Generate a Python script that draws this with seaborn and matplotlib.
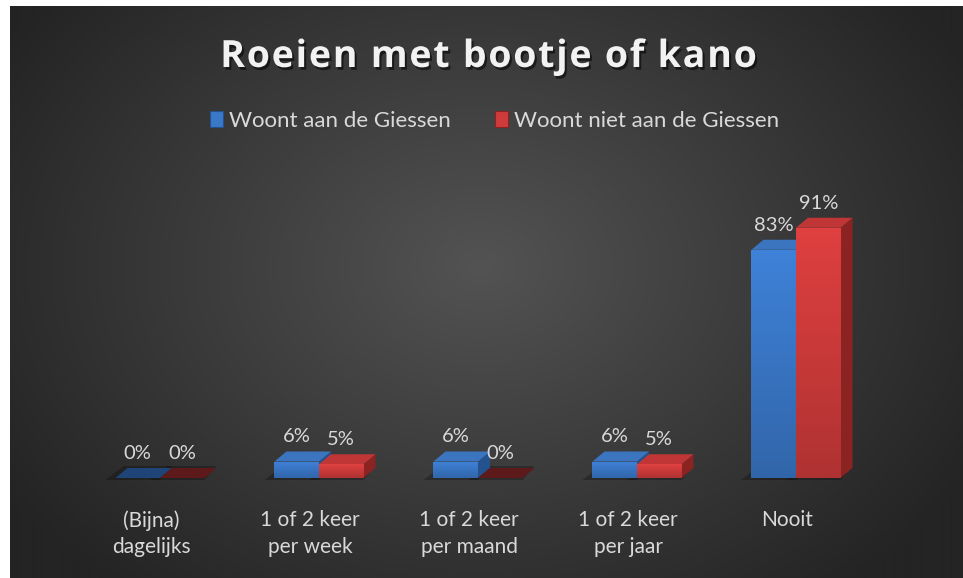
import numpy as np
import pandas as pd
import matplotlib
matplotlib.use("Agg")
import matplotlib.pyplot as plt
import seaborn as sns
from matplotlib.patches import Polygon, Patch
from matplotlib.colors import LinearSegmentedColormap, to_rgb
import matplotlib.patheffects as pe

# ---------------- data ----------------
categories = ["(Bijna)\ndagelijks", "1 of 2 keer\nper week", "1 of 2 keer\nper maand",
              "1 of 2 keer\nper jaar", "Nooit"]
series_names = ["Woont aan de Giessen", "Woont niet aan de Giessen"]
woont_aan = [0, 6, 6, 6, 83]
woont_niet_aan = [0, 5, 0, 5, 91]
title = "Roeien met bootje of kano"

df = pd.DataFrame({
    "categorie": categories * 2,
    "serie": [series_names[0]] * len(categories) + [series_names[1]] * len(categories),
    "waarde": woont_aan + woont_niet_aan,
})

# ---------------- style ----------------
sns.set_theme(style="dark")
plt.rcParams["font.family"] = ["Lato", "DejaVu Sans"]
txt_col = "#d9d9d9"
blue = "#3a78c8"
red = "#cf3b3b"
colors = {series_names[0]: blue, series_names[1]: red}
side_col = {series_names[0]: "#24528f", series_names[1]: "#8c2323"}
top_col = {series_names[0]: "#3b74bf", series_names[1]: "#c03636"}
floor_col = {series_names[0]: "#1f4578", series_names[1]: "#5e1a1a"}

W, H = 963, 578
fig = plt.figure(figsize=(W / 100, H / 100), dpi=100, facecolor="white")

# background with radial gradient
bg = fig.add_axes([10 / W, 0, 1 - 10 / W, 1 - 6 / H])
yy, xx = np.mgrid[0:572, 0:953]
cx, cy = 470, 260
r = np.sqrt(((xx - cx) / 560.0) ** 2 + ((yy - cy) / 420.0) ** 2)
r = np.clip(r, 0, 1)
inner = np.array(to_rgb("#535353"))
outer = np.array(to_rgb("#242424"))
img = inner[None, None, :] * (1 - r[..., None]) + outer[None, None, :] * r[..., None]
bg.imshow(img, aspect="auto", extent=[0, 1, 0, 1], origin="upper")
bg.set_axis_off()

# main axes: 0 at y=478 px, 100% at y=203 px, categories 160..796 px
ax = fig.add_axes([80.5 / W, 100 / H, 795 / W, 275 / H])
ax.set_facecolor("none")
sns.barplot(data=df, x="categorie", y="waarde", hue="serie", palette=colors,
            width=0.56, saturation=1, edgecolor="none", linewidth=0,
            legend=False, ax=ax, zorder=2)
n = len(categories)
ax.set_xlim(-0.5, n - 0.5)
ax.set_ylim(0, 100)

ux = n / 795.0          # data units per px (x)
uy = 100 / 275.0        # data units per px (y)
dx, dy = 12 * ux, 10 * uy

bars = [p for p in ax.patches if p.get_width() > 0]
for i, p in enumerate(bars):
    s = series_names[0] if i < n else series_names[1]
    z = 2 if s == series_names[0] else 3
    x0, w, h = p.get_x(), p.get_width(), p.get_height()
    # floor shadow
    ax.add_patch(Polygon([(x0 - 10 * ux, -2 * uy), (x0 + dx - 4 * ux, dy + 2 * uy),
                          (x0 + w + dx, dy + 2 * uy), (x0 + w, -2 * uy)],
                         closed=True, facecolor="black", alpha=0.25, lw=0,
                         zorder=1.5, clip_on=False))
    p.set_zorder(z)
    # front gradient
    if h > 0:
        c = np.array(to_rgb(colors[s]))
        cmap = LinearSegmentedColormap.from_list("g", [np.clip(c * 0.85, 0, 1), np.clip(c * 1.08, 0, 1)])
        im = ax.imshow(np.linspace(0, 1, 50).reshape(-1, 1), cmap=cmap, origin="lower",
                       extent=[x0, x0 + w, 0, h], aspect="auto", zorder=z + 0.01)
        im.set_clip_path(p)
    tc = top_col[s] if h > 0 else floor_col[s]
    ax.add_patch(Polygon([(x0, h), (x0 + dx, h + dy), (x0 + w + dx, h + dy), (x0 + w, h)],
                         closed=True, facecolor=tc, lw=0, zorder=z, clip_on=False))
    ax.add_patch(Polygon([(x0 + w, 0), (x0 + w + dx, dy), (x0 + w + dx, h + dy), (x0 + w, h)],
                         closed=True, facecolor=side_col[s], lw=0, zorder=z - 0.01, clip_on=False))
    ax.text(x0 + w / 2, h + dy + 9 * uy, f"{h:.0f}%", ha="center", va="baseline",
            color=txt_col, fontsize=14.5, zorder=5, clip_on=False)

ax.set_xlim(-0.5, n - 0.5)
ax.set_ylim(0, 100)
ax.set_xticks(np.arange(n) - 9 * ux)
ax.set_xticklabels(categories)
for t in ax.get_xticklabels():
    t.set_color(txt_col)
    t.set_fontsize(15)
    t.set_linespacing(1.42)
ax.tick_params(axis="x", length=0, pad=23)
ax.set_yticks([])
ax.set_xlabel("")
ax.set_ylabel("")
ax.grid(False)
for sp in ax.spines.values():
    sp.set_visible(False)

# title with letter spacing (each character placed after the measured width of the preceding text)
renderer = fig.canvas.get_renderer()
tkw = dict(fontsize=27, fontweight="bold", color="#f2f2f2", family=["Open Sans", "DejaVu Sans"])
def text_width(s):
    t = fig.text(0, 0, s, **tkw)
    wpx = t.get_window_extent(renderer).width
    t.remove()
    return wpx
bar_w = text_width("||")
def prefix_width(s):
    return text_width("|" + s + "|") - bar_w
spacing = 1.8
total = prefix_width(title) + spacing * (len(title) - 1)
x_start = 488.5 - total / 2
for k, ch in enumerate(title):
    if ch == " ":
        continue
    xk = x_start + prefix_width(title[:k]) + spacing * k
    fig.text(xk / W, 1 - 67 / H, ch, ha="left", va="baseline",
             path_effects=[pe.SimplePatchShadow(offset=(1.5, -2), shadow_rgbFace="black", alpha=0.55),
                           pe.Normal()], **tkw)

# legend
handles = [Patch(facecolor=colors[s], edgecolor=side_col[s], linewidth=0.8) for s in series_names]
leg = fig.legend(handles, series_names, loc="center", bbox_to_anchor=(494.5 / W, 1 - 121 / H),
                 ncol=2, frameon=False, fontsize=16, labelcolor=txt_col,
                 handlelength=0.6, handleheight=0.7, handletextpad=0.25, columnspacing=2.0)

fig.savefig("out.png", dpi=100, facecolor="white")
